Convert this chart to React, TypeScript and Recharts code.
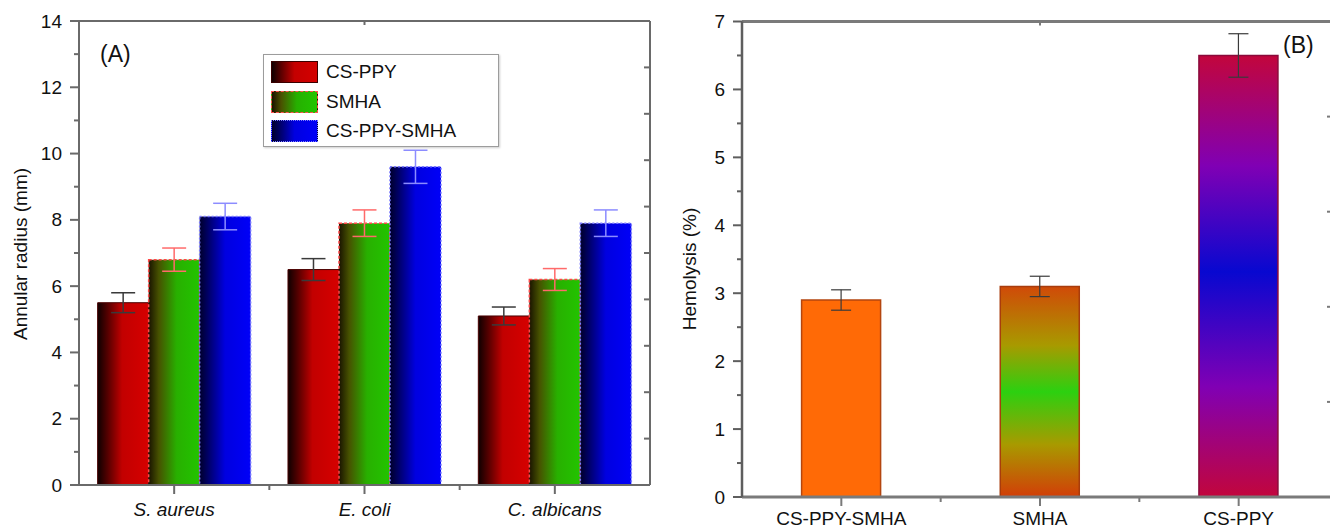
import { Bar, BarChart, Cell, ErrorBar, Legend, XAxis, YAxis } from "recharts";

// panel A: annular radius per organism
const organisms = ["S. aureus", "E. coli", "C. albicans"];
const csPpy = [5.5, 6.5, 5.1];
const csPpyErr = [0.3, 0.33, 0.27];
const smha = [6.8, 7.9, 6.2];
const smhaErr = [0.35, 0.4, 0.33];
const csPpySmha = [8.1, 9.6, 7.9];
const csPpySmhaErr = [0.4, 0.5, 0.4];
const radiusTicks = [0, 1, 2, 3, 4, 5, 6, 7, 8, 9, 10, 11, 12, 13, 14];

// panel B: hemolysis per sample
const samples = ["CS-PPY-SMHA", "SMHA", "CS-PPY"];
const hemolysis = [2.9, 3.1, 6.5];
const hemolysisErr = [0.15, 0.15, 0.32];
const hemolysisTicks = [0, 0.5, 1, 1.5, 2, 2.5, 3, 3.5, 4, 4.5, 5, 5.5, 6, 6.5, 7];

const frameTicks = [0, 1, 2, 3, 4, 5, 6, 7, 8, 9, 10];

const FONT = '"Liberation Sans", Arial, Helvetica, sans-serif';
const INK = "#111";
const AXIS_A = "#6a6a6a";
const AXIS_B = "#7a7a7a";

const dataA = organisms.map((name, i) => ({
  name,
  csPpy: csPpy[i],
  csPpyErr: csPpyErr[i],
  smha: smha[i],
  smhaErr: smhaErr[i],
  csPpySmha: csPpySmha[i],
  csPpySmhaErr: csPpySmhaErr[i],
}));

const dataB = samples.map((name, i) => ({ name, value: hemolysis[i], err: hemolysisErr[i] }));
const fillsB = ["url(#orangeB)", "url(#smhaB)", "url(#ppyB)"];
const strokesB = ["#b4460f", "#a83c0c", "#8a0a3a"];

const legendItems = [
  { label: "CS-PPY", bg: "linear-gradient(90deg,#100000 0%,#5a0000 20%,#c40000 50%,#d40000 100%)", border: "1px solid #3a0000" },
  { label: "SMHA", bg: "linear-gradient(90deg,#1a1200 0%,#4a5000 20%,#26b000 55%,#22c400 100%)", border: "1.5px dashed #ff5050" },
  { label: "CS-PPY-SMHA", bg: "linear-gradient(90deg,#00002a 0%,#000080 25%,#0000e0 50%,#0000f8 100%)", border: "1.5px dotted #8080ff" },
];

// left axis: labels on majors, short ticks on minors
const makeLeftTick = (axis: string, isMajor: (v: number) => boolean, offset: number) => (props: any) => {
  const { x, y, payload } = props;
  const v = payload.value;
  const major = isMajor(v);
  return (
    <g>
      <line x1={x} x2={x - (major ? 9 : 5)} y1={y} y2={y} stroke={axis} strokeWidth={2} />
      {major && (
        <text x={x - offset} y={y} textAnchor="end" dominantBaseline="central" fontSize={19} fill={INK} fontFamily={FONT}>
          {v}
        </text>
      )}
    </g>
  );
};

const makeBottomTick = (axis: string, italic: boolean, dy: number) => (props: any) => {
  const { x, y, payload, index, visibleTicksCount } = props;
  const half = payload.offset ?? 95;
  const last = index === (visibleTicksCount ?? 3) - 1;
  return (
    <g>
      <line x1={x} x2={x} y1={y} y2={y + 9} stroke={axis} strokeWidth={2} />
      {!last && <line x1={x + half} x2={x + half} y1={y} y2={y + 5} stroke={axis} strokeWidth={2} />}
      <text x={x} y={y + dy} textAnchor="middle" fontSize={19} fontStyle={italic ? "italic" : "normal"} fill={INK} fontFamily={FONT}>
        {payload.value}
      </text>
    </g>
  );
};

const makeTopTick = (axis: string) => (props: any) => {
  const { x, y, payload } = props;
  const v = payload.value;
  if (v === 0 || v === 10) return <g />;
  return <line x1={x} x2={x} y1={y} y2={y + (v % 2 === 0 ? 7 : 4)} stroke={axis} strokeWidth={2} />;
};

const makeRightTick = (axis: string, len: number, top: number) => (props: any) => {
  const { x, y, payload } = props;
  const v = payload.value;
  if (v === 0 || v === top) return <g />;
  return <line x1={x} x2={x - len} y1={y} y2={y} stroke={axis} strokeWidth={2} />;
};

function LegendBox() {
  return (
    <div
      style={{
        width: 236,
        height: 93,
        boxSizing: "border-box",
        border: "1.5px solid #9c9c9c",
        background: "#fff",
        boxShadow: "1px 1px 2px rgba(0,0,0,0.2)",
        padding: "6px 0 0 7px",
        fontFamily: FONT,
      }}
    >
      {legendItems.map((it) => (
        <div key={it.label} style={{ display: "flex", alignItems: "center", height: 22, marginBottom: 7.5 }}>
          <div style={{ width: 47, height: 22, boxSizing: "border-box", background: it.bg, border: it.border }} />
          <span style={{ marginLeft: 8, fontSize: 19, color: INK, lineHeight: "22px" }}>{it.label}</span>
        </div>
      ))}
    </div>
  );
}

export default function App() {
  return (
    <div style={{ position: "absolute", left: 0, top: 0, width: 1330, height: 529, overflow: "hidden", background: "#fff", fontFamily: FONT }}>
      <div style={{ position: "absolute", left: 0, top: 0 }}>
        <BarChart width={680} height={529} data={dataA} margin={{ top: 20, right: 29, bottom: 0, left: 0 }} barCategoryGap="9.8%" barGap={0}>
          <defs>
            <linearGradient id="redA" x1="0" y1="0" x2="1" y2="0">
              <stop offset="0" stopColor="#0e0000" />
              <stop offset="0.2" stopColor="#560000" />
              <stop offset="0.48" stopColor="#c20000" />
              <stop offset="1" stopColor="#d60000" />
            </linearGradient>
            <linearGradient id="greenA" x1="0" y1="0" x2="1" y2="0">
              <stop offset="0" stopColor="#191300" />
              <stop offset="0.2" stopColor="#475200" />
              <stop offset="0.55" stopColor="#28b000" />
              <stop offset="1" stopColor="#22c400" />
            </linearGradient>
            <linearGradient id="blueA" x1="0" y1="0" x2="1" y2="0">
              <stop offset="0" stopColor="#00002a" />
              <stop offset="0.22" stopColor="#00007a" />
              <stop offset="0.5" stopColor="#0000e0" />
              <stop offset="1" stopColor="#0000f8" />
            </linearGradient>
          </defs>
          <XAxis
            dataKey="name"
            height={44}
            axisLine={{ stroke: AXIS_A, strokeWidth: 2 }}
            tickLine={false}
            tickSize={0}
            tickMargin={0}
            interval={0}
            tick={makeBottomTick(AXIS_A, true, 31)}
          />
          <XAxis
            xAxisId="top"
            orientation="top"
            type="number"
            domain={[0, 10]}
            allowDataOverflow
            ticks={frameTicks}
            interval={0}
            height={1}
            axisLine={{ stroke: AXIS_A, strokeWidth: 2 }}
            tickLine={false}
            tickSize={0}
            tickMargin={0}
            tick={makeTopTick(AXIS_A)}
          />
          <YAxis
            width={79}
            domain={[0, 14]}
            ticks={radiusTicks}
            interval={0}
            axisLine={{ stroke: AXIS_A, strokeWidth: 2 }}
            tickLine={false}
            tickSize={0}
            tickMargin={0}
            tick={makeLeftTick(AXIS_A, (v) => v % 2 === 0, 17)}
            label={{
              content: () => (
                <text x={20} y={254} transform="rotate(-90 20 254)" textAnchor="middle" dominantBaseline="central" fontSize={19} fill={INK} fontFamily={FONT}>
                  Annular radius (mm)
                </text>
              ),
            }}
          />
          <YAxis
            yAxisId="right"
            orientation="right"
            width={1}
            domain={[0, 10]}
            allowDataOverflow
            ticks={frameTicks}
            interval={0}
            axisLine={{ stroke: AXIS_A, strokeWidth: 2 }}
            tickLine={false}
            tickSize={0}
            tickMargin={0}
            tick={makeRightTick(AXIS_A, 6, 10)}
          />
          <Legend layout="vertical" align="center" verticalAlign="middle" wrapperStyle={{ left: 263, top: 54, width: 236, height: 93 }} content={() => <LegendBox />} />
          <Bar dataKey="csPpy" name="CS-PPY" fill="url(#redA)" stroke="#4a0000" strokeWidth={1} isAnimationActive={false}>
            <ErrorBar dataKey="csPpyErr" width={12} stroke="#3a3a3a" strokeWidth={1.5} isAnimationActive={false} />
          </Bar>
          <Bar dataKey="smha" name="SMHA" fill="url(#greenA)" stroke="#ff4848" strokeWidth={1.5} strokeDasharray="3 2" isAnimationActive={false}>
            <ErrorBar dataKey="smhaErr" width={12} stroke="#ff6a6a" strokeWidth={1.5} isAnimationActive={false} />
          </Bar>
          <Bar dataKey="csPpySmha" name="CS-PPY-SMHA" fill="url(#blueA)" stroke="#7a7aff" strokeWidth={1.5} strokeDasharray="2 2" isAnimationActive={false}>
            <ErrorBar dataKey="csPpySmhaErr" width={12} stroke="#8c8cff" strokeWidth={1.5} isAnimationActive={false} />
          </Bar>
        </BarChart>
      </div>

      <div style={{ position: "absolute", left: 680, top: 0 }}>
        <BarChart width={680} height={529} data={dataB} margin={{ top: 20.5, right: 21, bottom: 0, left: 0 }} barCategoryGap="30%">
          <defs>
            <linearGradient id="orangeB" x1="0" y1="0" x2="0" y2="1">
              <stop offset="0" stopColor="#ff6a06" />
              <stop offset="1" stopColor="#ff6a06" />
            </linearGradient>
            <linearGradient id="smhaB" x1="0" y1="0" x2="0" y2="1">
              <stop offset="0" stopColor="#d04a08" />
              <stop offset="0.28" stopColor="#a89a00" />
              <stop offset="0.5" stopColor="#2cd010" />
              <stop offset="0.75" stopColor="#a89a00" />
              <stop offset="1" stopColor="#d23e08" />
            </linearGradient>
            <linearGradient id="ppyB" x1="0" y1="0" x2="0" y2="1">
              <stop offset="0" stopColor="#c2063c" />
              <stop offset="0.25" stopColor="#8000b4" />
              <stop offset="0.49" stopColor="#0808d0" />
              <stop offset="0.75" stopColor="#8000b4" />
              <stop offset="1" stopColor="#c2063c" />
            </linearGradient>
          </defs>
          <XAxis
            dataKey="name"
            height={32}
            axisLine={{ stroke: AXIS_B, strokeWidth: 3 }}
            tickLine={false}
            tickSize={0}
            tickMargin={0}
            interval={0}
            tick={makeBottomTick(AXIS_B, false, 28)}
          />
          <XAxis
            xAxisId="top"
            orientation="top"
            type="number"
            domain={[0, 10]}
            allowDataOverflow
            ticks={frameTicks}
            interval={0}
            height={1}
            axisLine={{ stroke: AXIS_B, strokeWidth: 3 }}
            tickLine={false}
            tickSize={0}
            tickMargin={0}
            tick={makeTopTick(AXIS_B)}
          />
          <YAxis
            width={62}
            domain={[0, 7]}
            ticks={hemolysisTicks}
            interval={0}
            axisLine={{ stroke: "#5e5e5e", strokeWidth: 2.5 }}
            tickLine={false}
            tickSize={0}
            tickMargin={0}
            tick={makeLeftTick("#5e5e5e", (v) => Number.isInteger(v), 17)}
            label={{
              content: () => (
                <text x={9} y={269} transform="rotate(-90 9 269)" textAnchor="middle" dominantBaseline="central" fontSize={19} fill={INK} fontFamily={FONT}>
                  Hemolysis (%)
                </text>
              ),
            }}
          />
          <YAxis
            yAxisId="right"
            orientation="right"
            width={1}
            domain={[0, 5]}
            allowDataOverflow
            ticks={[0, 1, 2, 3, 4, 5]}
            interval={0}
            axisLine={{ stroke: AXIS_B, strokeWidth: 3 }}
            tickLine={false}
            tickSize={0}
            tickMargin={0}
            tick={makeRightTick(AXIS_B, 11, 5)}
          />
          <Bar dataKey="value" isAnimationActive={false} strokeWidth={1.5}>
            {dataB.map((d, i) => (
              <Cell key={d.name} fill={fillsB[i]} stroke={strokesB[i]} />
            ))}
            <ErrorBar dataKey="err" width={10} stroke="#3a3a3a" strokeWidth={1.2} isAnimationActive={false} />
          </Bar>
        </BarChart>
      </div>

      <div style={{ position: "absolute", left: 100, top: 40, fontSize: 23, color: INK, lineHeight: "28px" }}>(A)</div>
      <div style={{ position: "absolute", left: 1283, top: 31, fontSize: 23, color: INK, lineHeight: "28px" }}>(B)</div>
    </div>
  );
}
